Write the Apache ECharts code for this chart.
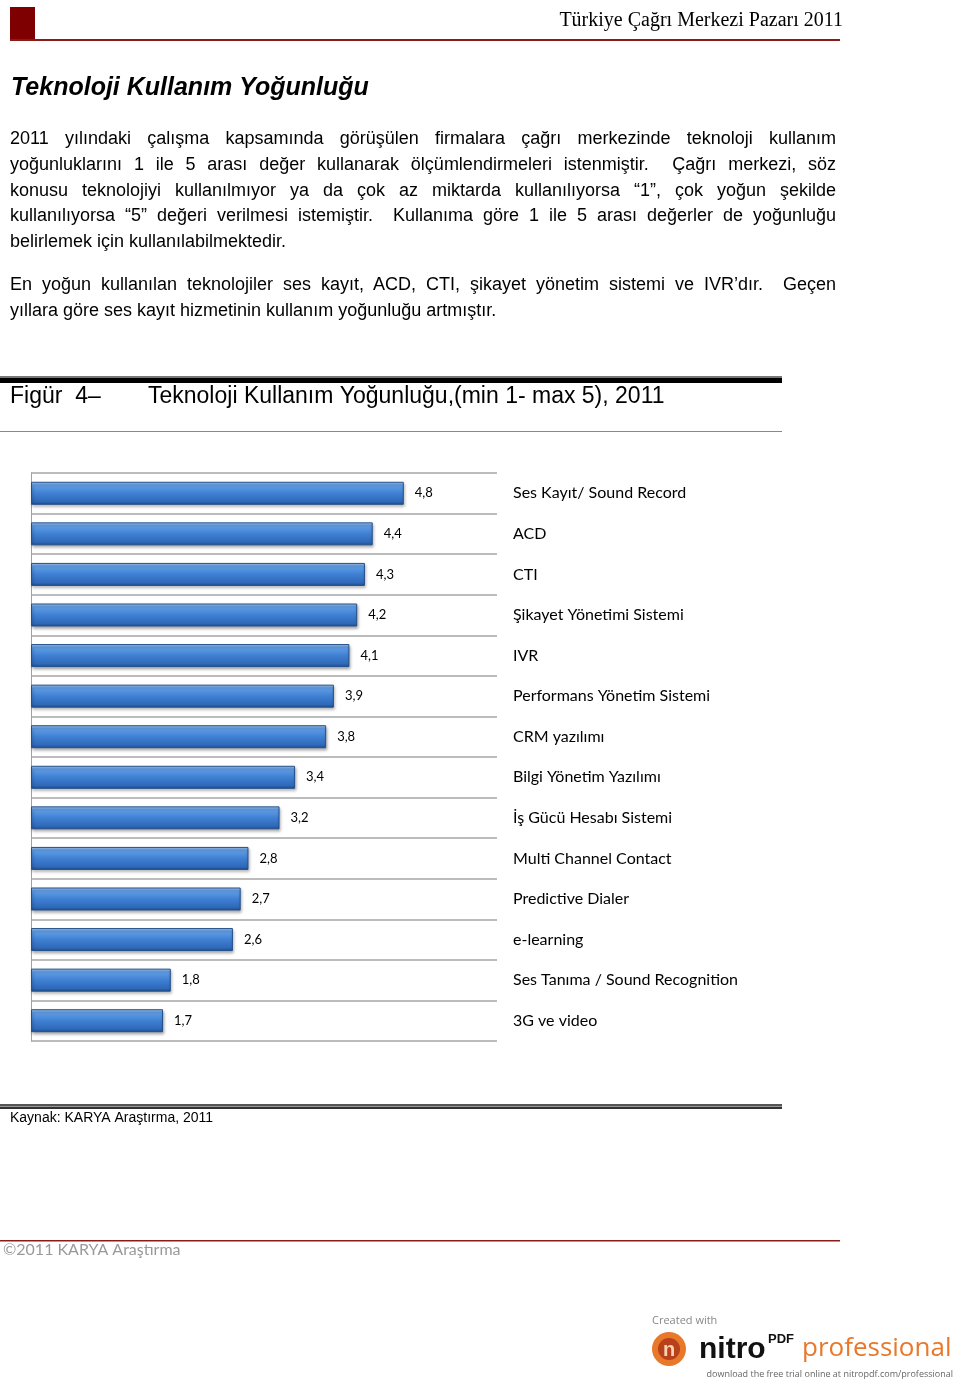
<!DOCTYPE html>
<html>
<head>
<meta charset="utf-8">
<script src="https://cdn.jsdelivr.net/npm/echarts@6/dist/echarts.min.js"></script>
<style>
  html, body { margin: 0; padding: 0; background: #fff; }
  #page { position: relative; width: 960px; height: 1384px; overflow: hidden; }
  #chart { position: absolute; left: 0; top: 0; width: 960px; height: 1384px; }
  .t { position: absolute; font-family: "Liberation Sans", Arial, sans-serif; color: #000; white-space: nowrap; }
  .p { font-size: 18px; left: 10px; width: 826px; line-height: 22px; }
  .j { text-align: justify; text-align-last: justify; white-space: normal; }
</style>
</head>
<body>
<div id="page">
  <div id="chart"></div>
  <div class="t p j" style="top:127px;">2011 yılındaki çalışma kapsamında görüşülen firmalara çağrı merkezinde teknoloji kullanım</div>
  <div class="t p j" style="top:153px;">yoğunluklarını 1 ile 5 arası değer kullanarak ölçümlendirmeleri istenmiştir.&nbsp; Çağrı merkezi, söz</div>
  <div class="t p j" style="top:179px;">konusu teknolojiyi kullanılmıyor ya da çok az miktarda kullanılıyorsa “1”, çok yoğun şekilde</div>
  <div class="t p j" style="top:204px;">kullanılıyorsa “5” değeri verilmesi istemiştir.&nbsp; Kullanıma göre 1 ile 5 arası değerler de yoğunluğu</div>
  <div class="t p" style="top:230px;">belirlemek için kullanılabilmektedir.</div>
  <div class="t p j" style="top:273px;">En yoğun kullanılan teknolojiler ses kayıt, ACD, CTI, şikayet yönetim sistemi ve IVR’dır.&nbsp; Geçen</div>
  <div class="t p" style="top:299px;">yıllara göre ses kayıt hizmetinin kullanım yoğunluğu artmıştır.</div>
</div>
<script>
// ---- data ----
var categories = [
  "Ses Kayıt/ Sound Record", "ACD", "CTI", "Şikayet Yönetimi Sistemi", "IVR",
  "Performans Yönetim Sistemi", "CRM yazılımı", "Bilgi Yönetim Yazılımı",
  "İş Gücü Hesabı Sistemi", "Multi Channel Contact", "Predictive Dialer",
  "e-learning", "Ses Tanıma / Sound Recognition", "3G ve video"
];
var values = [4.8, 4.4, 4.3, 4.2, 4.1, 3.9, 3.8, 3.4, 3.2, 2.8, 2.7, 2.6, 1.8, 1.7];
var headerText = "Türkiye Çağrı Merkezi Pazarı 2011";
var titleText = "Teknoloji Kullanım Yoğunluğu";
var figLabel = "Figür  4–";
var figTitle = "Teknoloji Kullanım Yoğunluğu,(min 1- max 5), 2011";
var sourceText = "Kaynak: KARYA Araştırma, 2011";
var copyrightText = "©2011 KARYA Araştırma";

var chart = echarts.init(document.getElementById('chart'), null, { renderer: 'canvas' });
var labelFont = 'Lato, "Open Sans", sans-serif';

var option = {
  animation: false,
  backgroundColor: '#ffffff',
  grid: { left: 31, top: 473, width: 466, height: 568, containLabel: false },
  xAxis: {
    type: 'value', min: 0, max: 6, show: false
  },
  yAxis: [
    {
      type: 'category', data: categories, inverse: true, position: 'left',
      axisLine: { show: true, lineStyle: { color: '#a0a0a0', width: 1 } },
      axisTick: { show: false },
      axisLabel: { show: false },
      splitLine: { show: true, lineStyle: { color: '#a6a6a6', width: 1.5 } }
    },
    {
      type: 'category', data: categories, inverse: true, position: 'right',
      axisLine: { show: false }, axisTick: { show: false }, splitLine: { show: false },
      axisLabel: { show: true, margin: 16, align: 'left', color: '#000', fontSize: 16, fontFamily: labelFont }
    }
  ],
  series: [{
    type: 'bar', yAxisIndex: 0, data: values, barWidth: 23,
    itemStyle: {
      color: new echarts.graphic.LinearGradient(0, 0, 0, 1, [
        { offset: 0, color: '#a9cdf4' },
        { offset: 0.14, color: '#629fe6' },
        { offset: 0.5, color: '#3f80d3' },
        { offset: 0.86, color: '#2f69b9' },
        { offset: 1, color: '#1d4c8d' }
      ]),
      borderColor: '#24508a', borderWidth: 1,
      shadowColor: 'rgba(0,0,0,0.35)', shadowBlur: 3, shadowOffsetX: 1, shadowOffsetY: 2
    },
    label: {
      show: true, position: 'right', distance: 11, color: '#000',
      fontSize: 13, fontFamily: labelFont,
      formatter: function (p) { return String(p.value).replace('.', ','); }
    }
  }],
  graphic: [
    // header
    { type: 'rect', shape: { x: 10, y: 7, width: 25, height: 33 }, style: { fill: '#7f0000' } },
    { type: 'rect', shape: { x: 10, y: 39, width: 830, height: 2 }, style: { fill: '#8b1a1a' } },
    { type: 'text', x: 843, y: 21, style: { text: headerText, align: 'right', verticalAlign: 'middle', font: '20px "Liberation Serif", serif', fill: '#000' } },
    // title
    { type: 'text', x: 11, y: 88, style: { text: titleText, verticalAlign: 'middle', font: 'italic bold 25px "Liberation Sans", Arial, sans-serif', fill: '#000' } },
    // figure caption block
    { type: 'rect', shape: { x: 0, y: 376, width: 782, height: 2 }, style: { fill: '#777' } },
    { type: 'rect', shape: { x: 0, y: 378, width: 782, height: 5 }, style: { fill: '#000' } },
    { type: 'text', x: 10, y: 397, style: { text: figLabel, verticalAlign: 'middle', font: '23px "Liberation Sans", Arial, sans-serif', fill: '#000' } },
    { type: 'text', x: 148, y: 397, style: { text: figTitle, verticalAlign: 'middle', font: '23px "Liberation Sans", Arial, sans-serif', fill: '#000' } },
    { type: 'rect', shape: { x: 0, y: 431, width: 782, height: 1 }, style: { fill: '#888' } },
    // source block
    { type: 'rect', shape: { x: 0, y: 1104, width: 782, height: 2 }, style: { fill: '#555' } },
    { type: 'rect', shape: { x: 0, y: 1106, width: 782, height: 1 }, style: { fill: '#999' } },
    { type: 'rect', shape: { x: 0, y: 1107, width: 782, height: 2 }, style: { fill: '#333' } },
    { type: 'text', x: 10, y: 1118, style: { text: sourceText, verticalAlign: 'middle', font: '14px "Liberation Sans", Arial, sans-serif', fill: '#000' } },
    // footer
    { type: 'rect', shape: { x: 0, y: 1240, width: 840, height: 1.5 }, style: { fill: '#8b1a1a' } },
    { type: 'text', x: 3, y: 1250, style: { text: copyrightText, verticalAlign: 'middle', font: '16px Lato, "Open Sans", sans-serif', fill: '#9a9a9a' } },
    // nitro badge
    { type: 'text', x: 652, y: 1321, style: { text: 'Created with', verticalAlign: 'middle', font: '11px "Open Sans", sans-serif', fill: '#888' } },
    { type: 'circle', shape: { cx: 669, cy: 1349, r: 17 }, style: { fill: '#e8782a' } },
    { type: 'circle', shape: { cx: 669, cy: 1349, r: 11 }, style: { fill: '#b8401a' } },
    { type: 'text', x: 669, y: 1350, style: { text: 'n', align: 'center', verticalAlign: 'middle', font: 'bold 20px "Liberation Sans", sans-serif', fill: '#f6d2b0' } },
    { type: 'text', x: 699, y: 1350, style: { text: 'nitro', verticalAlign: 'middle', font: 'bold 30px "Liberation Sans", sans-serif', fill: '#111' } },
    { type: 'text', x: 768, y: 1339, style: { text: 'PDF', verticalAlign: 'middle', font: 'bold 13px "Liberation Sans", sans-serif', fill: '#111' } },
    { type: 'text', x: 802, y: 1349, style: { text: 'professional', verticalAlign: 'middle', font: '26px "Open Sans", sans-serif', fill: '#e8782a' } },
    { type: 'text', x: 953, y: 1374, style: { text: 'download the free trial online at nitropdf.com/professional', align: 'right', verticalAlign: 'middle', font: '9px "Open Sans", sans-serif', fill: '#666' } }
  ]
};
chart.setOption(option);
</script>
</body>
</html>
